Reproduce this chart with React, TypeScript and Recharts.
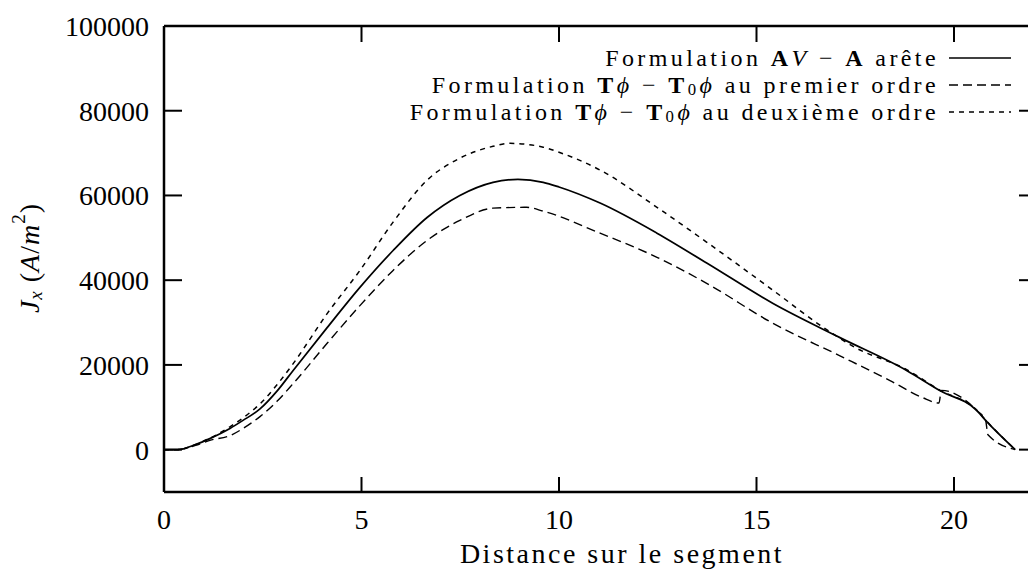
import React from 'react';
import { LineChart, Line, XAxis, YAxis, Legend } from 'recharts';

// Formulation AV - A arête (trait plein)
const xArete = [0, 0.35, 0.8, 1.16, 1.67, 2.0, 2.43, 2.86, 3.27, 4.13, 4.96, 5.8, 6.66, 7.49, 8.33, 8.96, 9.6, 10.0, 11.04, 12.48, 13.75, 15.42, 17.1, 18.8, 19.65, 20.58, 20.8, 21.55];
const yArete = [0, 0, 1200, 2600, 5000, 6900, 9600, 13800, 18700, 28800, 38300, 47000, 54800, 60000, 63100, 63800, 63100, 62000, 58200, 51100, 44000, 34500, 26500, 18700, 13900, 9200, 6900, 0];

// Formulation Tphi - T0phi au premier ordre (tirets longs)
const xPremier = [0, 0.35, 0.8, 1.16, 1.67, 2.0, 2.43, 2.86, 3.27, 4.13, 4.96, 5.8, 6.66, 7.49, 8.33, 9.18, 9.6, 11.04, 12.48, 13.75, 15.42, 17.1, 18.38, 19.2, 19.62, 19.68, 20.58, 20.8, 20.86, 21.55];
const yPremier = [0, 0, 1000, 2200, 3300, 5000, 7800, 11400, 15600, 25100, 34000, 42300, 49400, 54100, 57000, 57200, 56300, 51100, 45400, 39200, 29800, 22200, 16300, 12300, 11000, 14000, 9200, 6900, 3500, 0];

// Formulation Tphi - T0phi au deuxième ordre (tirets courts)
const xDeuxieme = [0, 0.35, 0.8, 1.16, 1.67, 2.0, 2.43, 2.86, 3.27, 4.13, 4.96, 5.8, 6.66, 7.49, 8.33, 8.76, 9.6, 10.0, 11.04, 12.48, 13.75, 15.42, 16.7, 17.5, 18.8, 19.65, 20.58, 20.8, 21.55];
const yDeuxieme = [0, 0, 1200, 2700, 5400, 7500, 10800, 15300, 20300, 32100, 42300, 53700, 63600, 68800, 71600, 72300, 71400, 70200, 66000, 57200, 48900, 37600, 28800, 24100, 18900, 14000, 9300, 7000, 0];

const xTicks = [0, 5, 10, 15, 20];
const yTicks = [0, 20000, 40000, 60000, 80000, 100000];

const toPoints = (xs: number[], ys: number[]) => xs.map((x, i) => ({ x, y: ys[i] }));

const FONT = '"Liberation Serif", "DejaVu Serif", serif';
const W = 1040;
const H = 573;

const series = [
  { key: 'arete', data: toPoints(xArete, yArete), dash: undefined as string | undefined, width: 1.7 },
  { key: 'premier', data: toPoints(xPremier, yPremier), dash: '9 5', width: 1.4 },
  { key: 'deuxieme', data: toPoints(xDeuxieme, yDeuxieme), dash: '5 5', width: 1.5 },
];

const sub: React.CSSProperties = { fontSize: '0.7em', verticalAlign: '-0.12em', lineHeight: 0 };

const legendLabels: Record<string, React.ReactNode> = {
  arete: (
    <>
      Formulation <b>A</b><i>V</i> − <b>A</b> arête
    </>
  ),
  premier: (
    <>
      Formulation <b>T</b><i>ϕ</i> − <b>T</b><span style={sub}>0</span><i>ϕ</i> au premier ordre
    </>
  ),
  deuxieme: (
    <>
      Formulation <b>T</b><i>ϕ</i> − <b>T</b><span style={sub}>0</span><i>ϕ</i> au deuxième ordre
    </>
  ),
};

function LegendBox() {
  return (
    <div style={{ position: 'relative', width: W, height: H, fontFamily: FONT }}>
      {series.map((s, i) => (
        <div
          key={s.key}
          style={{
            position: 'absolute',
            right: W - 1011,
            top: 47 + i * 27,
            height: 22,
            display: 'flex',
            alignItems: 'center',
            whiteSpace: 'nowrap',
            fontSize: 24,
            letterSpacing: 3.4,
            lineHeight: '22px',
          }}
        >
          <span>{legendLabels[s.key]}</span>
          <svg width={62} height={10} style={{ marginLeft: 10 }}>
            <line x1={0} y1={5} x2={62} y2={5} stroke="#000" strokeWidth={s.width} strokeDasharray={s.dash} />
          </svg>
        </div>
      ))}
    </div>
  );
}

function YLabel() {
  const cx = 29;
  const cy = 258;
  return (
    <text
      x={cx}
      y={cy}
      transform={`rotate(-90, ${cx}, ${cy})`}
      textAnchor="middle"
      dominantBaseline="central"
      fontFamily={FONT}
      fontSize={28}
      letterSpacing={1}
      fill="#000"
    >
      <tspan fontStyle="italic">J</tspan>
      <tspan fontStyle="italic" fontSize={19} dy={6}>x</tspan>
      <tspan dy={-6}> (</tspan>
      <tspan fontStyle="italic">A</tspan>
      <tspan>/</tspan>
      <tspan fontStyle="italic">m</tspan>
      <tspan fontSize={19} dy={-11}>2</tspan>
      <tspan dy={11}>)</tspan>
    </text>
  );
}

function XLabel() {
  return (
    <text x={622} y={553} textAnchor="middle" dominantBaseline="central" fontFamily={FONT} fontSize={28} letterSpacing={2.5} fill="#000">
      Distance sur le segment
    </text>
  );
}

const axisLine = { stroke: '#000', strokeWidth: 2.5 };
const tickLine = { stroke: '#000', strokeWidth: 2 };
const tickStyle = { fill: '#000', fontSize: 28, fontFamily: FONT };

export default function App() {
  return (
    <div style={{ position: 'absolute', left: 0, top: 0, width: 1028, height: H, overflow: 'hidden', background: '#fff', fontFamily: FONT }}>
      <LineChart width={W} height={H} margin={{ top: 25, right: 0, bottom: 0, left: 0 }} style={{ fontFamily: FONT }}>
        <XAxis
          xAxisId="bottom"
          dataKey="x"
          type="number"
          domain={[0, 22]}
          ticks={xTicks}
          allowDataOverflow
          height={81}
          axisLine={axisLine}
          tickLine={tickLine}
          tickSize={-15}
          tickMargin={32}
          tick={tickStyle}
          label={{ content: () => <XLabel /> }}
        />
        <XAxis
          xAxisId="top"
          orientation="top"
          dataKey="x"
          type="number"
          domain={[0, 22]}
          ticks={xTicks}
          allowDataOverflow
          height={1}
          axisLine={axisLine}
          tickLine={tickLine}
          tickSize={-16}
          tickFormatter={() => ''}
        />
        <YAxis
          yAxisId="left"
          type="number"
          domain={[-10000, 100000]}
          ticks={yTicks}
          allowDataOverflow
          width={164}
          axisLine={axisLine}
          tickLine={tickLine}
          tickSize={-18}
          tickMargin={33}
          tick={tickStyle}
          label={{ content: () => <YLabel /> }}
        />
        <YAxis
          yAxisId="right"
          orientation="right"
          type="number"
          domain={[-10000, 100000]}
          ticks={yTicks}
          allowDataOverflow
          width={7}
          axisLine={axisLine}
          tickLine={tickLine}
          tickSize={-14}
          tickFormatter={() => ''}
        />
        <Legend
          layout="horizontal"
          verticalAlign="middle"
          align="center"
          wrapperStyle={{ position: 'absolute', left: 0, top: 0, width: W, height: H, margin: 0, pointerEvents: 'none' }}
          content={() => <LegendBox />}
        />
        {series.map((s) => (
          <Line
            key={s.key}
            xAxisId="bottom"
            yAxisId="left"
            data={s.data}
            dataKey="y"
            type="monotone"
            stroke="#000"
            strokeWidth={s.width}
            strokeDasharray={s.dash}
            dot={false}
            activeDot={false}
            isAnimationActive={false}
          />
        ))}
      </LineChart>
    </div>
  );
}
